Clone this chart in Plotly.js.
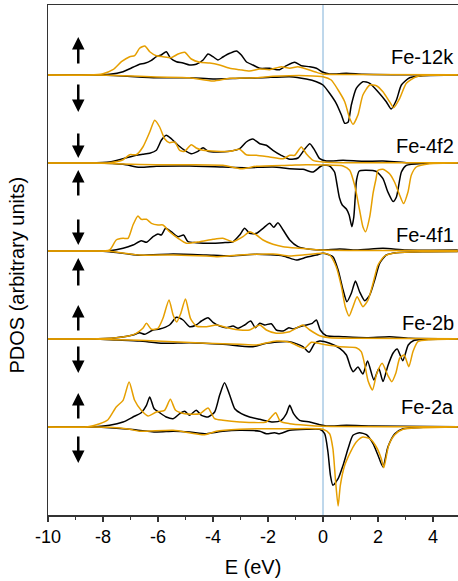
<!DOCTYPE html>
<html>
<head>
<meta charset="utf-8">
<script src="https://cdn.plot.ly/plotly-3.0.1.min.js"></script>
<style>html,body{margin:0;padding:0;background:#fff;}#chart{width:458px;height:581px;}</style>
</head>
<body>
<div id="chart"></div>
<script>
// ---------- data (E in eV, PDOS in arbitrary units; spin-down negative) ----------
const sites = ['Fe-12k', 'Fe-4f2', 'Fe-4f1', 'Fe-2b', 'Fe-2a'];
const tickValues = [-10, -8, -6, -4, -2, 0, 2, 4];
const tickLabels = ['-10', '-8', '-6', '-4', '-2', '0', '2', '4'];
const minorTickValues = [-9, -7, -5, -3, -1, 1, 3, 5];

// black series
const k12_upA = [[-10,0],[-8.5,0],[-7.76,0.07],[-7.27,0.33],[-6.91,0.77],[-6.67,1.07],[-6.48,1.17],[-6.24,1.47],[-6.06,1.83],[-5.88,2.0],[-5.70,2.33],[-5.54,1.67],[-5.33,1.33],[-5.09,1.2],[-4.85,1.0],[-4.61,1.07],[-4.36,1.5],[-4.18,2.1],[-4.0,1.83],[-3.82,1.5],[-3.64,1.8],[-3.39,2.17],[-3.15,2.4],[-2.97,2.0],[-2.79,1.33],[-2.55,1.0],[-2.30,0.67],[-1.94,0.67],[-1.58,0.53],[-1.33,0.93],[-1.03,1.27],[-0.79,0.93],[-0.48,0.83],[-0.24,0.67],[0,0.27],[0.24,0.1],[0.85,0.17],[1.45,0.07],[2.5,0.03],[4.9,0.02]];
const k12_dnA = [[-10,0],[-8.3,0],[-7.27,-0.1],[-6.06,-0.27],[-4.85,-0.27],[-4.0,-0.4],[-3.03,-0.33],[-2.18,-0.27],[-1.21,-0.17],[-0.61,-0.4],[-0.24,-0.67],[0,-1.0],[0.24,-1.83],[0.48,-2.83],[0.67,-4.0],[0.79,-4.83],[0.91,-4.73],[1.03,-3.0],[1.21,-1.33],[1.45,-0.67],[1.70,-0.83],[2.0,-1.67],[2.30,-2.67],[2.48,-3.4],[2.67,-2.5],[2.85,-1.0],[3.15,-0.27],[3.64,-0.07],[4.9,0]];
const f42_upA = [[-10,0],[-8.5,0],[-7.76,0.1],[-7.27,0.43],[-6.79,0.77],[-6.55,0.87],[-6.30,0.97],[-6.06,1.27],[-5.88,2.27],[-5.70,2.77],[-5.52,2.43],[-5.27,1.77],[-5.03,1.27],[-4.79,0.93],[-4.55,1.17],[-4.36,1.53],[-4.18,1.17],[-3.88,1.1],[-3.39,1.17],[-3.03,1.43],[-2.79,2.1],[-2.55,2.4],[-2.30,1.93],[-2.06,1.77],[-1.82,1.27],[-1.52,0.77],[-1.21,0.37],[-0.91,0.5],[-0.67,1.37],[-0.48,1.93],[-0.30,1.27],[-0.12,0.43],[0.12,0.2],[0.73,0.27],[1.45,0.17],[2.18,0.2],[3.03,0.03],[4.9,0.02]];
const f42_dnA = [[-10,0],[-8.3,0],[-7.27,-0.13],[-6.67,-0.43],[-6.06,-0.33],[-4.85,-0.3],[-3.64,-0.4],[-2.79,-0.47],[-1.82,-0.4],[-1.21,-0.57],[-0.73,-0.63],[-0.36,-0.9],[-0.12,-0.4],[0,-0.23],[0.24,-0.3],[0.42,-0.9],[0.5,-2.0],[0.6,-3.5],[0.7,-4.2],[0.85,-4.6],[0.95,-5.2],[1.05,-6.37],[1.12,-5.4],[1.17,-3.5],[1.22,-1.7],[1.32,-0.8],[1.58,-0.73],[1.94,-0.85],[2.18,-1.57],[2.36,-2.9],[2.55,-3.85],[2.67,-3.4],[2.85,-0.9],[3.03,-0.23],[3.64,-0.03],[4.9,0]];
const f41_upA = [[-10,0],[-8.5,0],[-7.76,0.03],[-7.27,0.27],[-6.91,0.6],[-6.61,1.03],[-6.42,0.87],[-6.18,1.43],[-6.0,1.7],[-5.88,1.6],[-5.72,2.27],[-5.52,1.93],[-5.27,1.43],[-5.07,1.6],[-4.91,0.93],[-4.61,0.83],[-4.12,0.77],[-3.64,0.83],[-3.27,0.93],[-3.03,1.6],[-2.85,2.27],[-2.67,1.77],[-2.42,1.77],[-2.18,2.27],[-1.94,2.77],[-1.79,2.37],[-1.64,2.83],[-1.45,2.1],[-1.21,1.1],[-0.91,0.43],[-0.48,0.17],[0,0.1],[0.61,0.2],[1.21,0.1],[2.18,0.27],[3.03,0.1],[4.9,0.1]];
const f41_dnA = [[-10,0],[-8.3,0],[-7.76,-0.07],[-6.67,-0.43],[-5.45,-0.3],[-4.24,-0.4],[-3.39,-0.5],[-2.42,-0.33],[-1.45,-0.5],[-0.97,-0.9],[-0.61,-0.63],[-0.24,-0.4],[0,-0.23],[0.36,-0.57],[0.55,-1.9],[0.73,-3.9],[0.87,-5.07],[1.03,-4.23],[1.18,-3.0],[1.33,-4.07],[1.52,-4.97],[1.70,-4.4],[1.88,-2.9],[2.06,-1.23],[2.30,-0.4],[2.67,-0.17],[3.64,-0.07],[4.9,-0.05]];
const b2_upA = [[-10,0],[-8.5,0],[-7.52,0.13],[-6.91,0.4],[-6.67,0.63],[-6.48,0.47],[-6.18,0.9],[-5.94,1.0],[-5.58,1.4],[-5.33,2.17],[-5.09,1.9],[-4.85,1.23],[-4.61,1.4],[-4.42,1.8],[-4.18,2.13],[-4.0,1.67],[-3.76,1.3],[-3.52,1.13],[-3.27,1.3],[-3.09,1.07],[-2.85,1.4],[-2.63,1.8],[-2.46,1.13],[-2.30,1.57],[-2.12,1.4],[-1.88,1.53],[-1.70,0.9],[-1.45,0.8],[-1.24,1.13],[-1.07,1.0],[-0.85,1.23],[-0.61,1.4],[-0.39,1.57],[-0.24,1.9],[-0.1,0.9],[0.12,0.33],[0.73,0.23],[1.58,0.13],[2.42,0.23],[3.15,0.07],[4.9,0.02]];
const b2_dnA = [[-10,0],[-8.3,0],[-7.52,-0.1],[-6.67,-0.2],[-5.82,-0.43],[-4.85,-0.37],[-3.64,-0.53],[-2.55,-0.77],[-2.06,-0.43],[-1.21,-0.27],[-0.73,-0.77],[-0.51,-1.33],[-0.30,-0.43],[-0.12,-0.2],[0.24,-0.43],[0.61,-0.93],[0.85,-1.6],[1.0,-2.8],[1.1,-3.27],[1.27,-2.8],[1.45,-3.5],[1.62,-2.2],[1.85,-4.1],[2.03,-2.95],[2.18,-4.25],[2.36,-2.67],[2.55,-1.4],[2.7,-1.0],[2.9,-2.17],[3.1,-0.6],[3.3,-0.15],[3.6,-0.05],[4.9,0]];
const a2_upA = [[-10,0],[-8.5,0],[-7.76,0.17],[-7.27,0.5],[-6.91,1.0],[-6.61,1.43],[-6.42,2.17],[-6.3,3.0],[-6.14,1.83],[-5.94,1.43],[-5.70,1.0],[-5.45,0.83],[-5.21,1.33],[-5.03,1.57],[-4.85,1.17],[-4.61,1.67],[-4.42,1.17],[-4.18,1.0],[-3.94,1.5],[-3.76,3.17],[-3.58,4.43],[-3.39,3.17],[-3.21,1.83],[-2.97,1.33],[-2.67,1.0],[-2.30,0.77],[-1.82,0.5],[-1.52,0.67],[-1.33,1.33],[-1.21,2.17],[-1.07,1.33],[-0.85,0.67],[-0.48,0.5],[-0.12,0.23],[0.12,0.1],[0.85,0.17],[1.82,0.1],[4.9,0.03]];
const a2_dnA = [[-10,0],[-8.3,0],[-7.76,-0.07],[-7.03,-0.23],[-6.06,-0.5],[-5.45,-0.43],[-4.85,-0.5],[-4.24,-0.67],[-3.64,-0.43],[-3.03,-0.33],[-2.30,-0.43],[-2.06,-0.67],[-1.76,-0.57],[-1.58,-0.67],[-1.21,-0.33],[-0.61,-0.23],[-0.12,-0.23],[0.06,-0.67],[0.18,-2.5],[0.27,-4.83],[0.36,-5.83],[0.55,-5.17],[0.73,-3.83],[0.91,-2.17],[1.09,-0.83],[1.33,-0.57],[1.58,-0.77],[1.82,-1.67],[2.0,-2.83],[2.18,-4.0],[2.36,-2.0],[2.61,-0.67],[2.91,-0.17],[3.64,-0.03],[4.9,0]];

// orange series
const k12_upB = [[-10,0],[-8.5,0],[-8.0,0.13],[-7.64,0.53],[-7.33,1.33],[-7.03,1.83],[-6.85,1.93],[-6.67,2.67],[-6.48,2.9],[-6.3,2.33],[-6.06,1.93],[-5.82,1.83],[-5.52,1.73],[-5.27,2.1],[-5.03,2.27],[-4.79,1.6],[-4.48,1.27],[-4.12,1.2],[-3.76,1.0],[-3.39,0.67],[-3.03,0.53],[-2.67,0.4],[-2.30,0.6],[-1.94,0.53],[-1.52,0.83],[-1.21,0.67],[-0.91,0.83],[-0.61,0.6],[-0.24,0.27],[0,0.1],[0.5,0.05],[4.9,0.03]];
const k12_dnB = [[-10,0],[-8.3,0],[-7.27,-0.07],[-6.06,-0.2],[-4.85,-0.27],[-4.0,-0.6],[-3.39,-0.33],[-2.42,-0.27],[-1.82,-0.13],[-1.21,-0.07],[-0.61,-0.07],[0,-0.17],[0.30,-0.5],[0.55,-1.5],[0.79,-2.67],[0.97,-4.33],[1.09,-4.93],[1.27,-4.0],[1.45,-2.0],[1.70,-1.0],[1.94,-1.07],[2.18,-1.67],[2.42,-2.67],[2.57,-3.27],[2.79,-2.33],[3.03,-0.83],[3.39,-0.17],[3.88,-0.03],[4.9,0]];
const f42_upB = [[-10,0],[-8.5,0],[-7.76,0.03],[-7.27,0.33],[-7.03,0.83],[-6.79,0.83],[-6.55,1.6],[-6.30,3.1],[-6.12,4.27],[-5.94,3.6],[-5.76,2.43],[-5.58,2.03],[-5.39,2.1],[-5.21,1.27],[-5.03,1.17],[-4.79,1.83],[-4.61,1.5],[-4.36,1.27],[-3.88,1.17],[-3.39,1.17],[-3.03,1.37],[-2.79,0.83],[-2.42,0.77],[-1.94,0.6],[-1.45,0.43],[-1.21,0.77],[-1.03,0.77],[-0.79,1.6],[-0.61,0.93],[-0.36,0.27],[0,0.1],[0.73,0.03],[4.9,0.02]];
const f42_dnB = [[-10,0],[-8.3,0],[-7.27,-0.1],[-6.06,-0.17],[-4.85,-0.17],[-3.64,-0.23],[-2.97,-0.57],[-2.42,-0.33],[-1.21,-0.23],[-0.61,-0.17],[0,-0.2],[0.73,-0.3],[0.97,-0.73],[1.15,-2.23],[1.33,-4.7],[1.45,-6.37],[1.55,-6.87],[1.7,-5.37],[1.82,-3.03],[1.92,-1.7],[2.0,-0.73],[2.18,-0.63],[2.42,-1.07],[2.6,-1.9],[2.79,-3.23],[2.93,-4.05],[3.09,-2.9],[3.21,-1.23],[3.39,-0.4],[3.88,-0.07],[4.9,0]];
const f41_upB = [[-10,0],[-8.5,0],[-7.76,0.1],[-7.52,1.1],[-7.27,1.27],[-7.09,1.27],[-6.91,2.6],[-6.73,3.5],[-6.61,3.17],[-6.42,3.17],[-6.24,2.77],[-6.0,2.6],[-5.82,2.6],[-5.58,1.93],[-5.27,1.27],[-4.97,0.77],[-4.48,0.93],[-4.0,1.17],[-3.64,1.27],[-3.27,0.93],[-2.91,1.43],[-2.67,1.93],[-2.42,1.6],[-2.18,1.1],[-1.82,0.67],[-1.45,0.43],[-0.85,0.27],[-0.12,0.1],[4.9,0.05]];
const f41_dnB = [[-10,0],[-8.3,0],[-7.76,-0.03],[-6.67,-0.4],[-5.45,-0.4],[-4.24,-0.5],[-3.88,-0.57],[-3.03,-0.4],[-1.82,-0.3],[-1.21,-0.5],[-0.73,-0.4],[0,-0.23],[0.24,-0.4],[0.48,-1.57],[0.67,-3.57],[0.81,-5.57],[0.95,-6.5],[1.09,-5.57],[1.24,-4.57],[1.45,-5.57],[1.64,-4.9],[1.82,-3.23],[2.0,-1.4],[2.24,-0.5],[2.67,-0.17],[3.64,-0.07],[4.9,-0.05]];
const b2_upB = [[-10,0],[-8.5,0],[-7.52,0.13],[-7.03,0.33],[-6.79,0.57],[-6.55,1.07],[-6.42,1.57],[-6.24,0.97],[-6.0,1.07],[-5.82,2.07],[-5.6,3.9],[-5.45,2.4],[-5.32,1.7],[-5.18,2.5],[-5.0,4.0],[-4.82,2.07],[-4.61,1.3],[-4.24,1.23],[-3.88,1.4],[-3.39,1.07],[-3.03,0.9],[-2.67,0.9],[-2.30,1.4],[-2.06,0.9],[-1.70,0.57],[-1.21,0.73],[-0.73,1.4],[-0.48,0.9],[-0.12,0.33],[0.24,0.13],[1.21,0.07],[4.9,0.02]];
const b2_dnB = [[-10,0],[-8.3,0],[-7.52,-0.07],[-6.67,-0.13],[-5.45,-0.27],[-4.24,-0.43],[-3.03,-0.53],[-2.42,-0.6],[-1.70,-0.2],[-1.21,-0.33],[-0.85,-0.77],[-0.67,-0.93],[-0.42,-0.33],[0,-0.53],[0.61,-0.77],[1.21,-0.87],[1.39,-1.27],[1.52,-2.6],[1.64,-4.2],[1.8,-5.1],[1.95,-3.5],[2.15,-2.43],[2.35,-3.6],[2.5,-4.27],[2.65,-3.4],[2.79,-1.9],[2.95,-1.6],[3.12,-2.77],[3.27,-1.27],[3.45,-0.27],[3.88,-0.07],[4.9,0]];
const a2_upB = [[-10,0],[-8.6,0],[-8.12,0.33],[-7.82,0.73],[-7.52,2.0],[-7.27,2.67],[-7.05,4.5],[-6.85,2.67],[-6.61,1.67],[-6.36,1.1],[-6.06,1.5],[-5.76,1.67],[-5.55,2.77],[-5.36,1.67],[-5.03,1.33],[-4.48,1.33],[-4.18,1.9],[-3.94,0.83],[-3.64,0.67],[-3.03,0.5],[-2.06,0.5],[-1.88,1.0],[-1.72,1.43],[-1.55,0.57],[-1.21,0.33],[-0.61,0.17],[0,0.07],[4.9,0.03]];
const a2_dnB = [[-10,0],[-8.3,0],[-7.76,-0.03],[-7.03,-0.23],[-6.67,-0.43],[-5.45,-0.33],[-4.3,-0.77],[-3.88,-0.43],[-3.03,-0.23],[-2.42,-0.17],[-1.21,-0.17],[0,-0.23],[0.24,-0.67],[0.36,-2.17],[0.46,-5.5],[0.55,-7.9],[0.63,-5.83],[0.79,-3.83],[1.03,-2.33],[1.21,-1.5],[1.45,-1.0],[1.70,-1.17],[1.94,-2.0],[2.12,-3.17],[2.21,-4.07],[2.39,-1.83],[2.61,-0.77],[2.91,-0.23],[3.64,-0.07],[4.9,0]];

// ---------- presentation ----------
const OFFSET_STEP = 8.8;
const colorA = '#000000';
const colorB = '#E69F00';
const seriesA = [[k12_upA, k12_dnA], [f42_upA, f42_dnA], [f41_upA, f41_dnA], [b2_upA, b2_dnA], [a2_upA, a2_dnA]];
const seriesB = [[k12_upB, k12_dnB], [f42_upB, f42_dnB], [f41_upB, f41_dnB], [b2_upB, b2_dnB], [a2_upB, a2_dnB]];

function mk(pts, off, color) {
  return {
    type: 'scatter', mode: 'lines',
    x: pts.map(p => p[0]), y: pts.map(p => p[1] + off),
    line: {color: color, width: 1.5, shape: 'spline', smoothing: 0.6},
    hoverinfo: 'skip', showlegend: false
  };
}
const traces = [];
sites.forEach((s, i) => {
  const off = OFFSET_STEP * (sites.length - i);
  seriesA[i].forEach(c => traces.push(mk(c, off, colorA)));
});
sites.forEach((s, i) => {
  const off = OFFSET_STEP * (sites.length - i);
  seriesB[i].forEach(c => traces.push(mk(c, off, colorB)));
});

const annotations = [];
const labelDy = [1.8, 1.7, 1.6, 1.6, 2.0];
sites.forEach((s, i) => {
  const off = OFFSET_STEP * (sites.length - i);
  annotations.push({x: 4.85, y: off + labelDy[i], xref: 'x', yref: 'y', text: s, showarrow: false,
    xanchor: 'right', yanchor: 'middle', font: {size: 20, color: '#000'}});
});
// spin arrows: [head y, tail y]
const arrowSpecs = [[47.8, 45.0], [40.3, 43.2], [35.7, 38.3], [34.5, 31.8], [27.0, 29.7], [25.7, 22.8], [21.0, 18.3], [14.2, 17.0], [12.2, 9.5], [5.2, 8.0]];
arrowSpecs.forEach(a => {
  annotations.push({x: -8.9, y: a[0], ax: -8.9, ay: a[1], xref: 'x', yref: 'y', axref: 'x', ayref: 'y',
    text: '', showarrow: true, arrowhead: 2, arrowsize: 1.0, arrowwidth: 2.5, arrowcolor: '#000', standoff: 0, startstandoff: 0});
});
annotations.push({x: -0.075, y: 0.47, xref: 'paper', yref: 'paper', text: 'PDOS (arbitrary units)', textangle: -90,
  showarrow: false, xanchor: 'center', yanchor: 'middle', font: {size: 20, color: '#000'}});

const layout = {
  width: 458, height: 581,
  margin: {l: 48, r: 0, t: 5, b: 66},
  paper_bgcolor: '#fff', plot_bgcolor: '#fff',
  showlegend: false,
  font: {family: 'Liberation Sans, Arial, sans-serif', color: '#000'},
  xaxis: {
    range: [-10, 4.909], showline: true, linecolor: '#333', linewidth: 1.5, mirror: true,
    tickmode: 'array', tickvals: tickValues, ticktext: tickLabels,
    ticks: 'outside', ticklen: 5, tickwidth: 1.5, tickcolor: '#333',
    showgrid: false, zeroline: false, tickfont: {size: 18},
    minor: {tickmode: 'array', tickvals: minorTickValues, ticks: 'outside', ticklen: 3, tickwidth: 1.5, tickcolor: '#333', showgrid: false},
    title: {text: 'E (eV)', font: {size: 20}, standoff: 14}
  },
  yaxis: {
    range: [0, 51], showline: true, linecolor: '#333', linewidth: 1.5, mirror: false,
    ticks: '', showticklabels: false, showgrid: false, zeroline: false
  },
  shapes: [{type: 'line', xref: 'x', yref: 'paper', x0: 0, x1: 0, y0: 0, y1: 1, layer: 'below',
    line: {color: '#7fb0d8', width: 1}}],
  annotations: annotations
};
Plotly.newPlot('chart', traces, layout, {staticPlot: true, displayModeBar: false});
</script>
</body>
</html>
